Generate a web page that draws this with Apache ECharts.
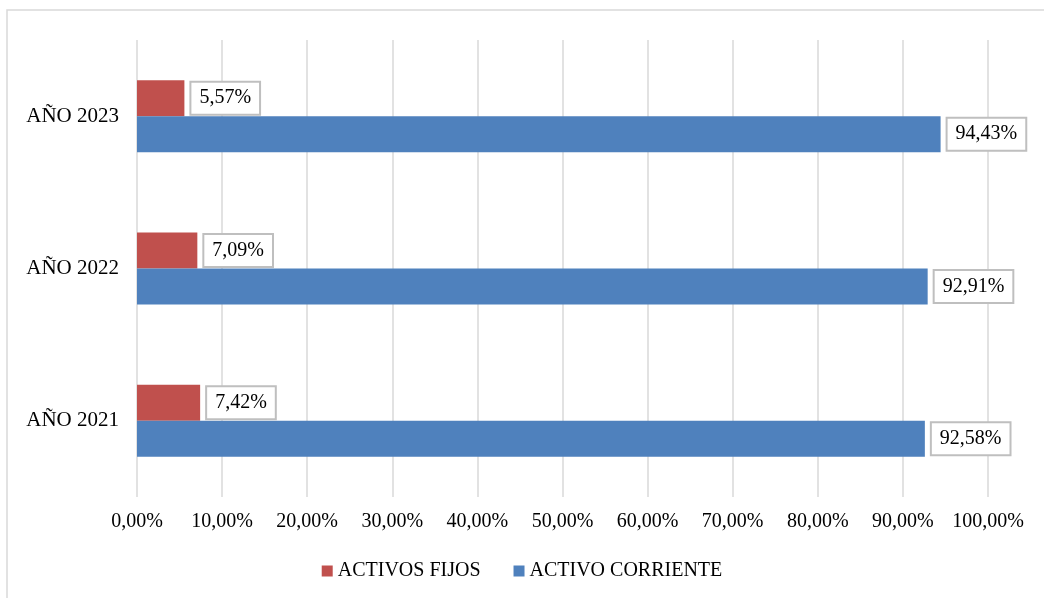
<!DOCTYPE html>
<html>
<head>
<meta charset="utf-8">
<script src="https://cdn.jsdelivr.net/npm/echarts@6/dist/echarts.min.js"></script>
<style>
  html, body { margin: 0; padding: 0; background: #fff; }
  #chart { width: 1044px; height: 598px; }
</style>
</head>
<body>
<div id="chart"></div>
<script>
var categories = ['AÑO 2021', 'AÑO 2022', 'AÑO 2023'];
var activosFijos = [7.42, 7.09, 5.57];
var activoCorriente = [92.58, 92.91, 94.43];
var xTicks = [0, 10, 20, 30, 40, 50, 60, 70, 80, 90, 100];

var font = '"Liberation Serif", "Times New Roman", serif';

function pct(v) {
  return v.toFixed(2).replace('.', ',') + '%';
}

var labelBox = {
  show: true,
  position: 'right',
  distance: 7,
  formatter: function (p) { return pct(p.value); },
  color: '#000',
  fontFamily: font,
  fontSize: 20,
  backgroundColor: '#fff',
  borderColor: '#BFBFBF',
  borderWidth: 2,
  padding: [6, 8, 5, 8]
};

var chart = echarts.init(document.getElementById('chart'));
chart.setOption({
  animation: false,
  textStyle: { fontFamily: font },
  graphic: [{
    type: 'rect',
    shape: { x: 7, y: 10, width: 1100, height: 700 },
    style: { fill: 'none', stroke: '#D9D9D9', lineWidth: 1.5 },
    silent: true
  }],
  grid: { left: 137, right: 56, top: 40, bottom: 101 },
  legend: {
    data: ['ACTIVOS FIJOS', 'ACTIVO CORRIENTE'],
    left: 'center',
    top: 556,
    itemWidth: 11,
    itemHeight: 11,
    itemGap: 33,
    icon: 'rect',
    textStyle: { fontFamily: font, fontSize: 20, color: '#000' }
  },
  xAxis: {
    type: 'value',
    min: xTicks[0],
    max: xTicks[xTicks.length - 1],
    interval: 10,
    axisLine: { show: false },
    axisTick: { show: false },
    axisLabel: {
      margin: 15,
      fontFamily: font,
      fontSize: 20,
      color: '#000',
      formatter: function (v) { return pct(v); }
    },
    splitLine: { show: true, lineStyle: { color: '#D9D9D9', width: 1.5 } }
  },
  yAxis: {
    type: 'category',
    data: categories,
    axisLine: { show: false },
    axisTick: { show: false },
    axisLabel: { margin: 18, fontFamily: font, fontSize: 21, color: '#000' }
  },
  series: [
    {
      name: 'ACTIVOS FIJOS',
      type: 'bar',
      data: activosFijos,
      barWidth: 36,
      barGap: '0%',
      itemStyle: { color: '#C0504D' },
      label: labelBox
    },
    {
      name: 'ACTIVO CORRIENTE',
      type: 'bar',
      data: activoCorriente,
      barWidth: 36,
      barGap: '0%',
      itemStyle: { color: '#4F81BD' },
      label: labelBox
    }
  ]
});
</script>
</body>
</html>
